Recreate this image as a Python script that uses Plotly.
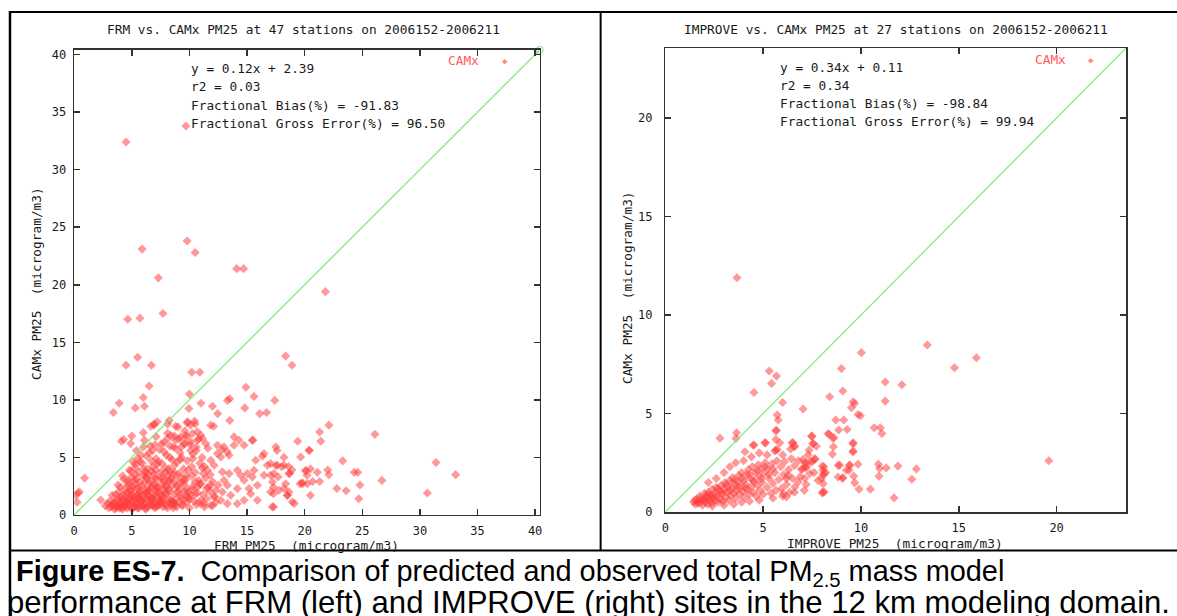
import plotly.graph_objects as go

# ---------------- data: left panel (FRM observed vs CAMx predicted) ----------------
frm_outlier_x = [9.7, 4.5, 5.9, 9.8, 10.5, 7.3, 14.1, 14.7, 21.8, 4.65, 5.7, 7.7, 18.35, 18.9, 4.5, 5.5, 6.7,
                 10.2, 10.9, 6.5, 14.9, 10.0, 3.9, 3.4, 6.0, 5.3, 6.1, 11.0, 9.95, 12.0, 12.45, 13.3, 13.5,
                 15.6, 14.8, 17.4, 16.1, 16.7, 13.5, 6.9, 8.1, 8.8, 9.8, 10.1, 10.5, 11.85, 12.1,
                 22.1, 21.3, 21.4, 19.4, 20.4, 15.5, 22.8, 20.5, 20.1, 20.5, 21.1, 22.0, 20.2, 21.3, 19.6,
                 19.1, 17.3, 17.3, 17.3, 18.2, 18.5, 18.35, 17.5, 17.7, 18.0, 18.6, 18.9, 18.7, 18.2, 17.5,
                 17.6, 26.1, 23.3, 31.4, 33.1, 30.65, 22.1, 24.3, 24.6, 19.8, 20.7, 23.6, 24.8, 26.7, 24.7,
                 0.9, 0.3, 0.15, 0.45, 0.25, 2.3,
                 4.3, 4.1, 5.0, 4.9, 6.0, 6.65, 6.95, 7.2, 8.25, 9.0, 9.85, 10.45, 8.7, 8.1, 8.4,
                 9.25, 9.68, 10.26, 10.69, 10.98, 11.13, 10.69, 11.42, 10.11, 9.54,
                 13.87, 14.3, 14.74, 15.46, 13.87, 13.0, 13.29, 13.44, 12.86, 12.43, 12.43, 12.72, 11.85,
                 12.14, 11.56, 16.47, 16.33, 15.75, 16.76, 17.05, 17.63, 18.21, 18.64, 17.34, 17.05, 16.47,
                 15.61, 15.03, 15.46, 14.16, 14.45, 14.74, 15.9, 17.2, 17.05, 17.77, 18.64, 18.5, 18.93,
                 19.8, 20.23, 20.09, 20.38, 19.65, 15.32, 15.17, 15.9, 17.2, 14.16, 13.58, 13.29, 13.0,
                 13.44, 12.86, 11.85, 12.28, 12.86, 12.72, 11.27, 11.85, 12.14, 13.29, 14.16, 14.74]
frm_outlier_y = [33.8, 32.4, 23.1, 23.8, 22.8, 20.6, 21.4, 21.4, 19.4, 17.0, 17.1, 17.5, 13.8, 13.0, 13.0, 13.7, 13.0,
                 12.4, 12.4, 11.2, 11.1, 10.5, 9.7, 8.9, 10.2, 9.3, 9.45, 9.7, 9.25, 9.45, 8.8, 9.95, 10.1,
                 10.3, 9.3, 9.95, 8.8, 8.9, 8.2, 7.8, 7.9, 7.7, 8.0, 7.8, 7.9, 7.8, 7.7,
                 7.8, 7.2, 6.4, 6.4, 5.6, 6.5, 2.3, 1.7, 3.8, 4.0, 3.7, 3.9, 3.45, 2.9, 2.7,
                 1.0, 0.7, 1.85, 2.4, 2.3, 1.7, 2.7, 4.3, 3.3, 4.2, 4.2, 3.9, 3.6, 5.0, 5.9,
                 5.6, 7.0, 4.7, 4.55, 3.5, 1.9, 3.5, 3.7, 3.7, 2.8, 2.9, 2.1, 2.6, 3.0, 1.4,
                 3.2, 1.9, 1.7, 2.0, 1.1, 1.3,
                 6.55, 6.4, 6.85, 6.2, 7.15, 7.7, 7.9, 8.1, 8.2, 7.65, 8.1, 8.15, 6.85, 6.65, 6.9,
                 6.78, 6.93, 7.07, 7.22, 6.93, 6.64, 6.49, 6.2, 6.35, 6.2,
                 6.78, 6.49, 6.06, 6.49, 6.06, 5.91, 5.48, 5.19, 5.68, 6.06, 5.33, 5.04, 4.75,
                 4.32, 3.88, 5.33, 5.1, 4.75, 4.32, 4.46, 4.32, 4.32, 3.59, 3.59, 3.45, 3.45,
                 3.88, 3.59, 3.3, 3.88, 3.45, 3.01, 2.58, 2.87, 2.0, 2.14, 2.0, 1.71, 1.13,
                 2.72, 2.72, 3.88, 5.62, 5.04, 1.85, 2.29, 1.27, 0.7, 2.29, 1.71, 2.58, 3.01,
                 3.59, 3.74, 2.58, 2.14, 2.0, 1.27, 0.98, 0.84, 1.56, 0.98, 0.98, 1.27]

frm_core_x = [2.7, 3.0, 3.3, 3.5, 3.7, 3.9, 4.1, 4.2, 4.4, 4.6, 4.8, 5.0, 5.2, 5.4, 5.6, 5.9, 6.2, 6.4, 6.7, 7.0,
              7.3, 7.7, 8.1, 8.5, 8.9, 9.4, 10.0, 10.6, 11.3, 12.0,
              3.1, 3.4, 3.8, 4.0, 4.3, 4.5, 4.8, 5.1, 5.3, 5.6, 5.8, 6.1, 6.3, 6.6, 6.9, 7.1, 7.4, 7.8, 8.2,
              8.6, 9.0, 9.5, 9.9, 10.4, 10.9, 11.5, 12.3,
              3.6, 3.9, 4.2, 4.6, 4.9, 5.2, 5.5, 5.7, 6.0, 6.2, 6.5, 6.8, 7.0, 7.3, 7.6, 7.9, 8.3, 8.7, 9.1,
              9.6, 10.1, 10.7, 11.2, 11.8,
              4.0, 4.4, 4.7, 5.0, 5.3, 5.6, 5.9, 6.2, 6.5, 6.7, 7.0, 7.3, 7.6, 7.9, 8.2, 8.5, 8.9, 9.3, 9.8,
              10.3, 10.9, 11.6, 12.5,
              4.6, 5.0, 5.4, 5.7, 6.0, 6.3, 6.6, 6.9, 7.2, 7.5, 7.8, 8.1, 8.4, 8.8, 9.2, 9.7, 10.2, 10.8,
              11.4, 12.0,
              4.9, 5.3, 5.6, 6.0, 6.4, 6.8, 7.1, 7.5, 7.9, 8.3, 8.7, 9.1, 9.5, 9.9, 10.5, 11.1,
              5.1, 5.5, 5.9, 6.3, 6.7, 7.1, 7.6, 8.0, 8.5, 8.9, 9.3, 9.8, 10.3, 10.9,
              5.4, 6.0, 6.5, 7.0, 7.4, 7.8, 8.3, 8.8, 9.2, 9.6, 10.1, 10.6,
              4.4, 4.9, 5.4, 5.8, 6.3, 6.8, 7.2, 7.7, 8.2, 8.7, 9.2, 9.7,
              4.7, 5.2, 5.7, 6.1, 6.6, 7.1, 7.5, 8.0, 8.4, 8.9, 9.4, 9.9,
              5.0, 5.5, 6.0, 6.4, 6.9, 7.4, 7.8, 8.3, 8.7, 9.3, 9.8, 10.3,
              3.6, 4.1, 4.6, 5.3, 6.2, 7.0, 7.9, 8.6, 9.5, 10.5, 11.0,
              3.3, 3.8, 4.3, 4.8, 5.3, 5.8, 6.3, 6.8, 7.3, 7.8, 8.3, 8.8, 9.3, 9.8, 10.3, 10.8, 11.3, 11.8,
              3.5, 4.0, 4.5, 5.0, 5.5, 6.0, 6.5, 7.0, 7.5, 8.0, 8.5, 9.0, 9.5, 10.0, 10.5, 11.0, 11.5, 12.2,
              4.2, 4.7, 5.2, 5.7, 6.2, 6.7, 7.2, 7.7, 8.2, 8.7, 9.2, 9.7, 10.2, 10.7, 11.2,
              6.1, 6.6, 7.1, 7.6, 8.1, 8.6, 9.1, 9.6, 10.1, 10.6, 11.1, 11.6,
              2.9, 3.2, 3.5, 3.8, 4.1, 4.4, 4.7, 5.0, 5.3, 5.6, 5.9, 6.2, 6.5, 6.8, 7.1, 7.4, 7.7, 8.0,
              8.3, 8.6]
frm_core_y = [0.8, 0.6, 0.9, 0.5, 0.7, 0.6, 0.9, 0.5, 0.7, 0.6, 0.8, 0.5, 0.7, 0.9, 0.6, 0.8, 0.5, 0.7, 0.9, 0.6,
              0.8, 0.7, 0.6, 0.9, 0.7, 0.8, 0.6, 0.9, 0.7, 0.8,
              1.2, 1.0, 1.4, 1.1, 1.3, 1.0, 1.4, 1.2, 1.1, 1.5, 1.3, 1.0, 1.4, 1.2, 1.1, 1.5, 1.3, 1.0, 1.4,
              1.2, 1.1, 1.3, 1.5, 1.2, 1.0, 1.4, 1.1,
              1.8, 2.0, 1.7, 1.9, 2.1, 1.6, 1.8, 2.0, 1.7, 1.9, 2.1, 1.6, 1.8, 2.0, 1.7, 1.9, 2.1, 1.8, 1.6,
              2.0, 1.7, 1.9, 1.8, 2.0,
              2.4, 2.3, 2.6, 2.2, 2.7, 2.4, 2.5, 2.2, 2.8, 2.4, 2.6, 2.3, 2.7, 2.5, 2.2, 2.6, 2.4, 2.8, 2.3,
              2.5, 2.7, 2.4, 2.6,
              3.0, 3.3, 3.1, 2.9, 3.4, 3.2, 3.0, 3.5, 3.1, 3.3, 2.9, 3.4, 3.2, 3.0, 3.3, 3.1, 3.4, 3.0,
              3.2, 2.9,
              3.8, 4.1, 3.7, 4.0, 3.6, 4.2, 3.9, 3.7, 4.1, 3.8, 4.3, 3.6, 4.0, 3.9, 3.7, 4.1,
              4.6, 4.9, 4.5, 5.1, 4.7, 4.9, 4.5, 5.2, 4.8, 4.6, 5.0, 4.7, 4.9, 4.5,
              5.6, 5.9, 5.4, 6.1, 5.7, 5.5, 6.0, 5.8, 5.4, 6.2, 5.6, 5.9,
              0.9, 1.6, 2.3, 1.2, 2.0, 0.8, 2.4, 1.5, 2.9, 1.1, 2.2, 1.7,
              1.3, 0.7, 1.9, 2.8, 1.5, 2.1, 1.0, 1.8, 1.3, 2.6, 0.9, 2.0,
              2.5, 1.4, 0.8, 1.7, 2.6, 1.2, 2.2, 3.0, 0.9, 1.5, 1.1, 2.2,
              0.6, 1.5, 2.0, 3.5, 3.7, 3.2, 3.7, 3.5, 2.7, 1.8, 2.7,
              1.7, 2.6, 3.1, 3.9, 4.4, 5.2, 4.0, 5.6, 4.6, 6.3, 5.0, 6.5, 5.9, 6.8, 5.3, 6.6, 4.2, 3.5,
              1.1, 0.8, 1.2, 1.8, 0.6, 1.4, 2.2, 0.9, 1.7, 2.5, 1.0, 2.0, 3.0, 1.4, 2.9, 1.3, 2.3, 1.6,
              3.4, 2.8, 3.0, 4.6, 3.3, 3.8, 4.4, 3.2, 4.0, 3.7, 4.8, 3.4, 4.2, 2.4, 3.6,
              6.5, 6.0, 6.8, 6.2, 7.1, 5.9, 6.6, 7.3, 6.1, 5.6, 5.0, 5.8,
              1.0, 0.7, 0.9, 1.3, 0.6, 1.6, 0.9, 1.1, 1.5, 0.8, 1.2, 0.6, 1.0, 1.4, 0.7, 1.0, 1.2, 0.8,
              1.1, 0.6]

# ---------------- data: right panel (IMPROVE observed vs CAMx predicted) ----------------
imp_outlier_x = [3.66, 19.6, 13.39, 15.9, 14.78, 10.02, 9.0, 5.31, 5.68, 5.43, 4.53, 11.24, 12.09, 9.07,
                 5.99, 7.04, 8.4, 9.51, 9.68, 9.6, 11.24, 5.72, 5.77, 8.71, 9.12, 8.86, 9.29, 9.85, 9.97,
                 10.67, 10.99, 11.07, 8.37, 5.65, 2.79, 3.61, 3.64, 7.5, 8.61, 5.65, 4.53, 4.07, 5.12,
                 5.65, 5.85, 6.48, 6.57, 7.55, 7.72, 7.35, 8.59, 8.54, 9.6, 9.6, 10.89, 10.95, 11.29, 11.89,
                 12.83, 12.6, 10.48, 9.9, 11.69, 10.92, 9.63, 9.68, 8.91, 9.05, 9.85, 9.42, 9.39, 8.03,
                 8.1, 8.05, 8.07, 8.02, 8.12, 8.83, 9.08, 7.04, 7.13, 7.42, 7.52, 7.64, 6.96, 7.21, 7.38,
                 7.13, 6.62, 6.79, 6.28, 6.19, 6.02, 6.19, 5.09, 4.49, 5.68, 5.72, 6.53, 6.62, 7.55, 7.47,
                 8.32, 8.57, 7.64, 7.21, 7.16, 8.06, 8.11, 7.98, 8.06, 9.25, 9.42, 8.83, 9.59, 9.59]
imp_outlier_y = [11.89, 2.6, 8.48, 7.83, 7.32, 8.09, 7.28, 7.16, 6.9, 6.53, 6.07, 6.6, 6.46, 6.14,
                 5.56, 5.23, 5.85, 5.29, 5.51, 5.6, 5.63, 4.92, 4.67, 4.67, 4.67, 4.16, 4.19, 4.95, 4.89,
                 4.28, 4.28, 3.99, 3.95, 4.12, 3.75, 3.73, 4.02, 3.85, 3.78, 3.68, 3.4, 3.06, 3.51,
                 3.14, 3.51, 3.51, 3.31, 3.48, 3.34, 3.14, 3.31, 2.94, 3.51, 3.1, 2.43, 2.21, 2.24, 2.33,
                 2.19, 1.66, 1.16, 1.16, 0.72, 1.82, 1.82, 1.48, 2.38, 1.7, 2.43, 2.38, 2.12, 2.33,
                 2.29, 1.87, 1.44, 0.97, 1.02, 1.78, 1.75, 2.67, 2.5, 2.56, 2.56, 2.67, 2.16, 2.29, 1.95,
                 1.7, 1.27, 1.53, 1.87, 1.7, 0.94, 0.77, 3.51, 3.39, 4.15, 3.17, 3.51, 3.34, 3.47, 3.85,
                 3.98, 3.73, 2.71, 2.46, 2.25, 2.12, 1.95, 1.69, 1.01, 2.12, 2.37, 2.37, 3.47, 3.05]

imp_core_x = [1.45, 1.55, 1.6, 1.7, 1.75, 1.85, 1.9, 1.95, 2.0,
              2.05, 2.1, 2.15, 2.2, 2.25, 2.3, 2.35, 2.4, 2.45, 2.5, 2.55, 2.6,
              2.65, 2.7, 2.75, 2.8, 2.85, 2.9, 2.95, 3.0, 3.05, 3.1, 3.15, 3.2,
              3.25, 3.3, 3.35, 3.4, 3.45, 3.5, 3.55, 3.6, 3.65, 3.7, 3.75, 3.8,
              3.85, 3.9, 3.95, 4.0, 4.05, 4.1, 4.15, 4.2, 4.25, 4.3, 4.35, 4.4,
              4.45, 4.5, 4.55, 4.6, 4.65, 4.7, 4.75, 4.8, 4.85, 4.9, 4.95, 5.0,
              5.05, 5.1, 5.2, 5.25, 5.3, 5.4, 5.45, 5.5, 5.6, 5.65, 5.7, 5.8,
              5.9, 5.95, 6.05, 6.1, 6.2, 6.3, 6.35, 6.45, 6.5, 6.6,
              2.2, 2.6, 3.0, 3.3, 3.6, 4.0, 4.4, 4.8, 5.2, 5.6, 6.0, 6.4, 6.8, 7.0, 7.3, 6.9, 7.2, 7.6,
              7.8, 8.2, 5.5, 6.0, 6.6, 7.1, 3.9, 4.3, 4.8, 2.4, 3.0, 3.5,
              1.5, 1.65, 1.8, 2.0, 2.15, 2.3, 2.5, 2.7, 2.9, 3.1, 3.3, 3.5, 3.7, 3.9, 4.1, 4.3, 4.5, 4.7,
              4.9, 5.1, 5.3, 5.5]
imp_core_y = [0.5, 0.4, 0.65, 0.45, 0.8, 0.55, 0.35, 0.7, 0.95,
              0.5, 0.75, 0.4, 1.0, 0.6, 0.85, 0.45, 1.15, 0.7, 0.95, 0.55, 1.25,
              0.8, 0.5, 1.05, 0.65, 1.35, 0.9, 0.55, 1.15, 1.5, 0.75, 1.0, 1.3,
              0.6, 1.6, 0.85, 1.2, 1.75, 0.95, 1.4, 0.7, 1.1, 1.55, 1.85, 0.9,
              1.3, 2.0, 1.05, 1.6, 0.75, 1.4, 1.9, 1.15, 2.15, 0.9, 1.7, 1.3,
              2.3, 1.0, 1.55, 2.0, 0.8, 1.35, 2.4, 1.8, 1.1, 2.2, 1.5, 0.9,
              1.95, 2.5, 1.25, 2.2, 1.7, 0.95, 2.45, 1.45, 2.0, 1.1, 2.6, 1.65,
              2.3, 1.2, 1.9, 2.55, 1.4, 2.15, 1.0, 2.7, 1.7, 2.35,
              1.5, 1.7, 2.0, 2.3, 2.5, 2.6, 2.8, 3.0, 2.9, 3.1, 2.9, 3.2, 2.6, 2.2, 2.9, 1.8, 1.4, 2.0,
              1.6, 2.0, 0.7, 0.8, 1.0, 1.1, 0.5, 0.55, 0.6, 0.3, 0.35, 0.4,
              0.6, 0.5, 0.7, 0.6, 0.9, 0.7, 0.8, 1.2, 1.0, 1.4, 1.1, 1.6, 1.3, 1.7, 1.2, 1.9, 1.6, 2.1,
              1.7, 2.3, 1.9, 2.2]

left_range = [0, 40.4]
right_range = [0, 23.55]
left_ticks = [0, 5, 10, 15, 20, 25, 30, 35, 40]
right_ticks = [0, 5, 10, 15, 20]

left_title = "FRM vs. CAMx PM25 at 47 stations on 2006152-2006211"
right_title = "IMPROVE vs. CAMx PM25 at 27 stations on 2006152-2006211"
left_stats = ["y = 0.12x + 2.39", "r2 = 0.03", "Fractional Bias(%) = -91.83", "Fractional Gross Error(%) = 96.50"]
right_stats = ["y = 0.34x + 0.11", "r2 = 0.34", "Fractional Bias(%) = -98.84", "Fractional Gross Error(%) = 99.94"]
left_xlabel = "FRM PM25\u00a0\u00a0(microgram/m3)"
right_xlabel = "IMPROVE PM25\u00a0\u00a0(microgram/m3)"
ylabel = "CAMx PM25\u00a0\u00a0(microgram/m3)"
series_name = "CAMx"

# ---------------- layout helpers ----------------
# Positions below are written in 1177x616 reference pixels and converted to paper fractions,
# with a small correction for how the page is fitted into the photograph.
W, H_REF = 1177, 616
H = 626
def px(x):
    return ((x - 3.0) / 0.9955) / W
def py(y):
    return 1 - (y - 2.5) / H_REF

MONO = "DejaVu Sans Mono"
PT_COLOR = "rgba(255,60,60,0.52)"
TXT = "#1a1a1a"

fig = go.Figure()

for xs, ys, xa, ya in [(frm_outlier_x + frm_core_x, frm_outlier_y + frm_core_y, "x", "y"),
                       (imp_outlier_x + imp_core_x, imp_outlier_y + imp_core_y, "x2", "y2")]:
    fig.add_trace(go.Scatter(x=xs, y=ys, xaxis=xa, yaxis=ya, mode="markers", name=series_name,
                             marker=dict(symbol="diamond", size=7, color=PT_COLOR, line=dict(width=0)),
                             showlegend=False, hoverinfo="skip"))

fig.add_trace(go.Scatter(x=left_range, y=left_range, xaxis="x", yaxis="y", mode="lines+markers",
                         line=dict(color="#78ec78", width=1.2),
                         marker=dict(symbol="circle-open", size=[0, 7], color="#55cc55", line=dict(width=1)),
                         cliponaxis=False, showlegend=False, hoverinfo="skip"))
fig.add_trace(go.Scatter(x=right_range, y=right_range, xaxis="x2", yaxis="y2", mode="lines",
                         line=dict(color="#78ec78", width=1.2), showlegend=False, hoverinfo="skip"))

axis_common = dict(showline=True, linecolor="#333333", linewidth=1.5, mirror="ticks", ticks="inside",
                   ticklen=6, tickwidth=1.5, tickcolor="#333333", showgrid=False, zeroline=False,
                   tickfont=dict(family=MONO, size=12, color=TXT), fixedrange=True)

fig.update_layout(
    width=W, height=H, margin=dict(l=0, r=0, t=0, b=0, pad=0),
    paper_bgcolor="white", plot_bgcolor="white",
    xaxis=dict(domain=[px(73.3), px(539.5)], range=left_range, tickvals=left_ticks, anchor="y",
               ticklabelstandoff=4, **axis_common),
    yaxis=dict(domain=[py(514.6), py(50.4)], range=left_range, tickvals=left_ticks, anchor="x",
               ticklabelstandoff=4, **axis_common),
    xaxis2=dict(domain=[px(665.3), px(1126.7)], range=right_range, tickvals=right_ticks, anchor="y2",
                ticklabelstandoff=4, **axis_common),
    yaxis2=dict(domain=[py(511.7), py(48.5)], range=right_range, tickvals=right_ticks, anchor="x2",
                ticklabelstandoff=9, **axis_common),
)

ann = []
def text(x, y, s, size=12.8, color=TXT, xanchor="center", angle=0, family=MONO):
    ann.append(dict(x=px(x), y=py(y), xref="paper", yref="paper", text=s, showarrow=False,
                    xanchor=xanchor, yanchor="middle", textangle=angle,
                    font=dict(family=family, size=size, color=color)))

text(303, 30, left_title)
text(896, 30, right_title)
for i, s in enumerate(left_stats):
    text(188, [69, 87, 105.5, 124][i], s, xanchor="left")
for i, s in enumerate(right_stats):
    text(778, [68, 86, 104, 122][i], s, xanchor="left")
text(446, 61, series_name, color="#ff5a5a", xanchor="left")
text(505, 61, "\u25c6", size=9, color="#ff8a8a")
text(1033, 60, series_name, color="#ff5a5a", xanchor="left")
text(1092, 60, "\u25c6", size=9, color="#ff8a8a")
text(306, 545, left_xlabel)
text(895, 543, right_xlabel)
text(36, 283, ylabel, angle=-90)
text(628, 288, ylabel, angle=-90)

SANS = "Liberation Sans"
ann.append(dict(x=px(13), y=py(573), xref="paper", yref="paper", showarrow=False, xanchor="left",
                yanchor="middle", font=dict(family=SANS, size=28.9, color="black"),
                text="<b>Figure ES-7.</b>\u00a0 Comparison of predicted and observed total PM<sub>2.5</sub> mass model"))
ann.append(dict(x=px(4), y=py(602), xref="paper", yref="paper", showarrow=False, xanchor="left",
                yanchor="middle", font=dict(family=SANS, size=31.1, color="black"),
                text="performance at FRM (left) and IMPROVE (right) sites in the 12 km modeling domain."))
fig.update_layout(annotations=ann)

shapes = []
def hline(y, x0, x1, w=2):
    shapes.append(dict(type="line", xref="paper", yref="paper", x0=px(x0), x1=px(x1), y0=py(y), y1=py(y),
                       line=dict(color="black", width=w)))
def vline(x, y0, y1, w=2):
    shapes.append(dict(type="line", xref="paper", yref="paper", x0=px(x), x1=px(x), y0=py(y0), y1=py(y1),
                       line=dict(color="black", width=w)))
hline(12.5, 8, 1180)
hline(550, 8, 1180)
vline(9, 11.5, 626, 2.5)
vline(600.5, 12, 550)
fig.update_layout(shapes=shapes)

fig.write_html(
    "out.html",
    config={"displayModeBar": False, "staticPlot": True},
    post_script=("document.documentElement.style.margin='0';document.body.style.margin='0';"
                 "document.body.style.overflow='hidden';"
                 "var gd=document.getElementById('{plot_id}');gd.style.overflow='hidden';"
                 "gd.querySelectorAll('.svg-container, .main-svg').forEach(function(e){e.style.overflow='hidden';});"),
)
